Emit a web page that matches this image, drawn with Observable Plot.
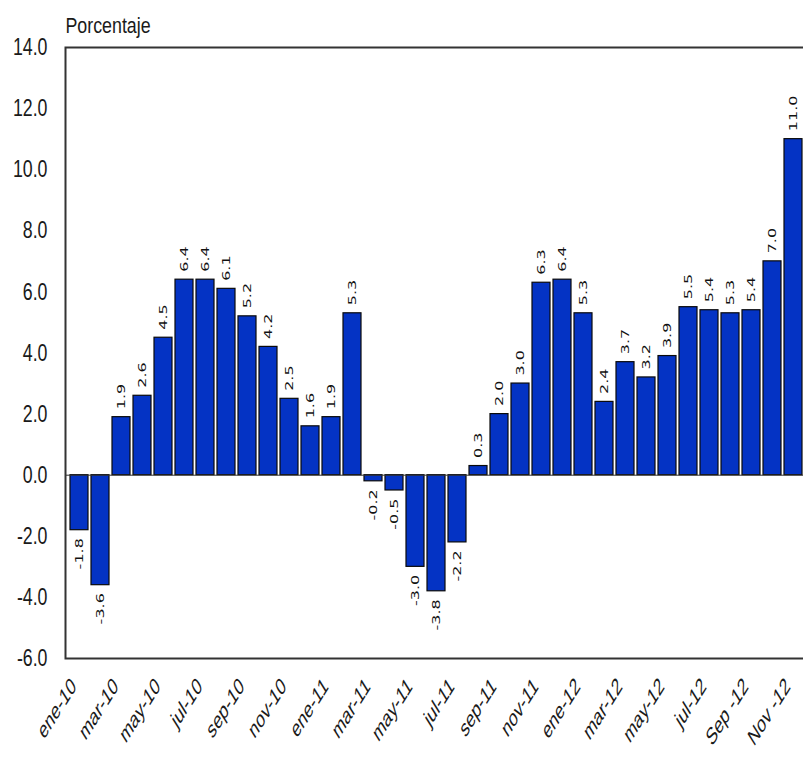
<!DOCTYPE html>
<html>
<head>
<meta charset="utf-8">
<script src="https://cdn.jsdelivr.net/npm/d3@7"></script>
<script src="https://cdn.jsdelivr.net/npm/@observablehq/plot@0.6"></script>
<style>
  html, body { margin: 0; padding: 0; background: white; }
</style>
</head>
<body>
<div id="chart"></div>
<script>
const months = [
  "ene-10","feb-10","mar-10","abr-10","may-10","jun-10","jul-10","ago-10","sep-10","oct-10","nov-10","dic-10",
  "ene-11","feb-11","mar-11","abr-11","may-11","jun-11","jul-11","ago-11","sep-11","oct-11","nov-11","dic-11",
  "ene-12","feb-12","mar-12","abr-12","may-12","jun-12","jul-12","ago-12","sep-12","oct-12","nov-12"
];
const values = [
  -1.8, -3.6, 1.9, 2.6, 4.5, 6.4, 6.4, 6.1, 5.2, 4.2, 2.5, 1.6,
  1.9, 5.3, -0.2, -0.5, -3.0, -3.8, -2.2, 0.3, 2.0, 3.0, 6.3, 6.4,
  5.3, 2.4, 3.7, 3.2, 3.9, 5.5, 5.4, 5.3, 5.4, 7.0, 11.0
];
const tickMonths = ["ene-10","mar-10","may-10","jul-10","sep-10","nov-10","ene-11","mar-11","may-11","jul-11","sep-11","nov-11","ene-12","mar-12","may-12","jul-12","sep-12","nov-12"];
const tickLabels = ["ene-10","mar-10","may-10","jul-10","sep-10","nov-10","ene-11","mar-11","may-11","jul-11","sep-11","nov-11","ene-12","mar-12","may-12","jul-12","Sep -12","Nov -12"];
const yTicks = [-6, -4, -2, 0, 2, 4, 6, 8, 10, 12, 14];
const yTitle = "Porcentaje";

const data = months.map((m, i) => ({month: m, value: values[i]}));
const fmt = d => d.toFixed(1);

const chart = Plot.plot({
  width: 803,
  height: 757,
  marginTop: 47,
  marginLeft: 65,
  marginRight: -4,
  marginBottom: 99,
  style: {fontFamily: "'Liberation Sans', Arial, sans-serif", background: "white", overflow: "hidden", color: "#1a1a1a"},
  x: {domain: months, padding: 0.14, axis: null},
  y: {domain: [-6, 14], axis: null},
  marks: [
    Plot.barY(data, {x: "month", y: "value", fill: "#0433c4", stroke: "#0a0a0a", strokeWidth: 1.2}),
    Plot.ruleY([0], {stroke: "#333", strokeWidth: 1}),
    Plot.frame({stroke: "#333", strokeWidth: 2}),
    Plot.axisY({ticks: yTicks, tickFormat: fmt, tickSize: 0, tickPadding: 18, fontSize: 24, label: null}),
    Plot.axisX({ticks: tickMonths, tickFormat: d => tickLabels[tickMonths.indexOf(d)], tickSize: 0, tickPadding: 17, dx: -10, rotate: -45, textAnchor: "end", fontSize: 15, label: null}),
    Plot.text(data.filter(d => d.value >= 0), {x: "month", y: "value", text: d => fmt(d.value), rotate: -90, textAnchor: "start", lineAnchor: "middle", dy: -8, fontSize: 10, fontFamily: "'DejaVu Sans', Verdana, sans-serif", fill: "#111", className: "barlbl"}),
    Plot.text(data.filter(d => d.value < 0), {x: "month", y: "value", text: d => fmt(d.value), rotate: -90, textAnchor: "end", lineAnchor: "middle", dy: 8, fontSize: 10, fontFamily: "'DejaVu Sans', Verdana, sans-serif", fill: "#111", className: "barlbl"}),
    Plot.text([yTitle], {frameAnchor: "top-left", dy: -15, lineAnchor: "bottom", textAnchor: "start", fontSize: 22, fill: "#1a1a1a", className: "ttl"})
  ]
});

function stretch(selection, sx, sy) {
  selection.each(function() {
    const t = this.getAttribute("transform") || "";
    const m = t.match(/^\s*translate\(([^)]*)\)\s*(.*)$/);
    if (m) {
      this.setAttribute("transform", `translate(${m[1]}) scale(${sx},${sy}) ${m[2]}`);
    } else {
      const x = +this.getAttribute("x") || 0, y = +this.getAttribute("y") || 0;
      this.removeAttribute("x"); this.removeAttribute("y");
      this.setAttribute("transform", `translate(${x},${y}) scale(${sx},${sy}) ${t}`);
    }
  });
}
const svg = d3.select(chart);
stretch(svg.selectAll('g[aria-label="y-axis tick label"] text'), 0.74, 1);
stretch(svg.selectAll('g[aria-label="x-axis tick label"] text'), 1, 1.6);
stretch(svg.selectAll('.barlbl text'), 1, 1.6);
stretch(svg.selectAll('.ttl text'), 0.81, 1);

document.getElementById("chart").appendChild(chart);
</script>
</body>
</html>
